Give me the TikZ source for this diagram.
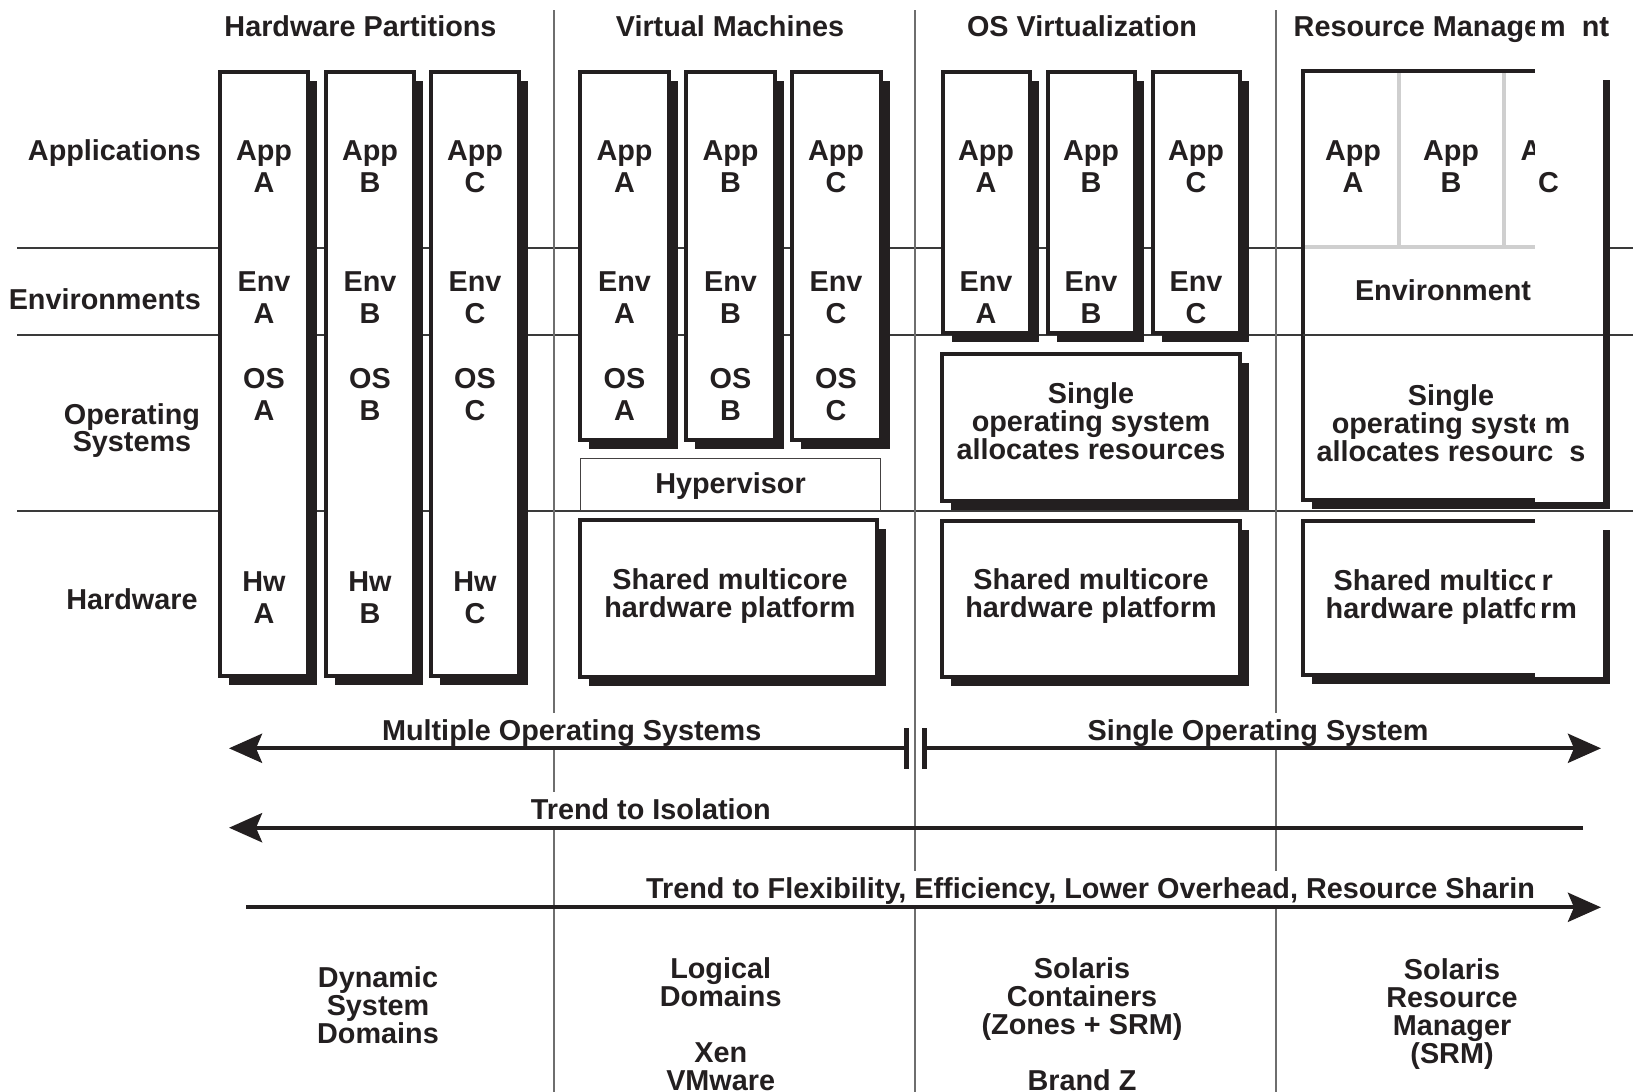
\documentclass[tikz,border=0pt]{standalone}
\usepackage{fontspec}
\setmainfont{Liberation Sans}
\usetikzlibrary{arrows.meta,shadows}
\definecolor{ink}{HTML}{231F20}
\definecolor{vline}{HTML}{6E6E6E}
\definecolor{hline}{HTML}{3A3A3A}
\definecolor{divgray}{HTML}{CFCFCF}
\begin{document}
\begin{tikzpicture}[x=1pt,y=-1pt,
  txt/.style={font=\bfseries\fontsize{28.8}{28}\selectfont, text=ink, inner sep=0pt, align=center, anchor=base},
  apptxt/.style={txt, font=\bfseries\fontsize{28.8}{32}\selectfont},
  lbl/.style={txt, fill=white, text height=27.5pt, text depth=8pt, inner xsep=3pt, inner ysep=0pt},
  sbox/.style={draw=ink, line width=4pt, fill=white, inner sep=0pt, outer sep=0pt,
     general shadow={fill=ink, shadow xshift=9pt, shadow yshift=-9pt}},
  thinbox/.style={draw=ink!85, line width=1.3pt, fill=white, inner sep=0pt, outer sep=0pt},
  sepline/.style={hline, line width=1.2pt},
  colline/.style={vline, line width=1.3pt},
  arr/.style={ink, line width=4.2pt, -{Stealth[length=33pt, width=29pt, inset=6pt]}},
  bar/.style={ink, line width=5pt}]
\useasboundingbox (0,0) rectangle (1633,1092);

% background separators
\foreach \y in {248,335,511} \draw[sepline] (17,\y) -- (1633,\y);
\foreach \x in {554,915,1276} \draw[colline] (\x,10) -- (\x,1092);

% column headers
\node[txt] (h1) at (360.5,36) {Hardware Partitions};
\node[txt] (h2) at (730,36) {Virtual Machines};
\node[txt] (h3) at (1082,36) {OS Virtualization};
\node[txt, anchor=base west] (h4) at (1293.5,36) {Resource Management};

% row labels (base anchor = baseline of the last line)
\node[txt, anchor=base east] (lapp) at (201,160) {Applications};
\node[txt, anchor=base east] (lenv) at (201,309) {Environments};
\node[txt, font=\bfseries\fontsize{28.8}{27}\selectfont] (los) at (132,451) {Operating\\Systems};
\node[txt] (lhw) at (132,609) {Hardware};

% hardware partitions
\node[sbox, minimum width=88pt, minimum height=604pt] (hp1) at (264,374) {};
\node[sbox, minimum width=88pt, minimum height=604pt] (hp2) at (370,374) {};
\node[sbox, minimum width=88pt, minimum height=604pt] (hp3) at (475,374) {};

% virtual machines
\node[sbox, minimum width=89pt, minimum height=368pt] (vm1) at (624.5,256) {};
\node[sbox, minimum width=89pt, minimum height=368pt] (vm2) at (730.5,256) {};
\node[sbox, minimum width=89pt, minimum height=368pt] (vm3) at (836,256) {};
\node[thinbox, minimum width=300pt, minimum height=52pt] (hyp) at (730.5,484.5) {};
\node[sbox, minimum width=297pt, minimum height=157pt] (vmhw) at (728.5,598.5) {};

% OS virtualization
\node[sbox, minimum width=87pt, minimum height=261pt] (ov1) at (986,202.5) {};
\node[sbox, minimum width=87pt, minimum height=261pt] (ov2) at (1091,202.5) {};
\node[sbox, minimum width=87pt, minimum height=261pt] (ov3) at (1196,202.5) {};
\node[sbox, minimum width=298pt, minimum height=147pt] (ovos) at (1091,427.5) {};
\node[sbox, minimum width=298pt, minimum height=156pt] (ovhw) at (1091,599) {};

% resource management
\node[sbox, minimum width=298pt, minimum height=429pt] (rmos) at (1452,285.5) {};
\node[sbox, minimum width=298pt, minimum height=154pt] (rmhw) at (1452,598) {};
\draw[divgray, line width=4pt] (1399,73) -- (1399,247) (1504,73) -- (1504,247) (1305,247) -- (1599,247);

% texts in boxes
\foreach \n/\x/\l in {a/264/A,b/370/B,c/475/C,d/624.5/A,e/730.5/B,f/836/C,g/986/A,h/1091/B,i/1196/C} {
  \node[apptxt] (app\n) at (\x,192) {App\\\l};
  \node[apptxt] (env\n) at (\x,323) {Env\\\l};
}
\foreach \n/\x/\l in {a/264/A,b/370/B,c/475/C,d/624.5/A,e/730.5/B,f/836/C}
  \node[apptxt] (os\n) at (\x,420.5) {OS\\\l};
\foreach \n/\x/\l in {a/264/A,b/370/B,c/475/C}
  \node[apptxt] (hw\n) at (\x,623.5) {Hw\\\l};
\node[txt] (hyptxt) at (730.5,493.3) {Hypervisor};
\node[txt] (vmhwtxt) at (730,617.3) {Shared multicore\\hardware platform};
\node[txt] (ovostxt) at (1091,459.3) {Single\\operating system\\allocates resources};
\node[txt] (ovhwtxt) at (1091,617.3) {Shared multicore\\hardware platform};
\node[apptxt] (rmappa) at (1353,192) {App\\A};
\node[apptxt] (rmappb) at (1451,192) {App\\B};
\node[apptxt] (rmappc) at (1548.5,192) {App\\C};
\node[txt] (rmenv) at (1443,300) {Environment};
\node[txt] (rmostxt) at (1451,461) {Single\\operating system\\allocates resources};
\node[txt] (rmhwtxt) at (1451.3,618) {Shared multicore\\hardware platform};

% lost strip of the original at the right
\fill[white] (1535,0) rectangle (1603.2,502);
\fill[white] (1535,512) rectangle (1603.2,677.2);
\draw[sepline] (1303,335) -- (1603,335);
\begin{scope}
  \clip (1535,0) rectangle (1633,700);
  \node[txt, anchor=base west] (h4r) at (1293.5,36) {Resource Manag\phantom{e}m\phantom{e}nt};
  \node[apptxt] (rmappcr) at (1548.5,192) {\phantom{App}\\C};
  \node[txt] (rmostxtr) at (1451,461) {Single\\operating syst\phantom{e}m\\allocates resourc\phantom{e}s};
  \node[txt] (rmhwtxtr) at (1451.3,618) {Shared multic\phantom{o}r\phantom{e}\\hardware platf\phantom{o}rm};
\end{scope}

% arrow labels
\node[lbl] (lmul) at (571.7,740.5) {Multiple Operating Systems};
\node[lbl] (lsin) at (1258,740.5) {Single Operating System};
\node[lbl] (liso) at (650.8,819) {Trend to Isolation};
\node[lbl] (lflx) at (1090.5,898.3) {Trend to Flexibility, Efficiency, Lower Overhead, Resource Sharin};

% arrows
\coordinate (mulL) at (229,748.3);
\coordinate (barL) at (906,748.3);
\coordinate (barR) at (924,748.3);
\coordinate (sinR) at (1601,748.3);
\coordinate (isoR) at (1583,827.7);
\coordinate (isoL) at (229,827.7);
\coordinate (flxL) at (246,907.3);
\coordinate (flxR) at (1601,907.3);
\coordinate (barLt) at (906,728.3);
\coordinate (barLb) at (906,769.3);
\coordinate (barRt) at (924,728.3);
\coordinate (barRb) at (924,769.3);
\draw[arr] (barL) -- (mulL);
\draw[arr] (barR) -- (sinR);
\draw[arr] (isoR) -- (isoL);
\draw[arr] (flxL) -- (flxR);
\draw[bar] (barLt) -- (barLb);
\draw[bar] (barRt) -- (barRb);

% bottom product labels
\node[txt] (dsd) at (378,1043) {Dynamic\\System\\Domains};
\node[txt] (ldom) at (720.7,1090) {Logical\\Domains\\[28pt]Xen\\VMware};
\node[txt] (zones) at (1082,1090) {Solaris\\Containers\\(Zones + SRM)\\[28pt]Brand Z};
\node[txt] (srm) at (1452,1063) {Solaris\\Resource\\Manager\\(SRM)};
\end{tikzpicture}
\end{document}
